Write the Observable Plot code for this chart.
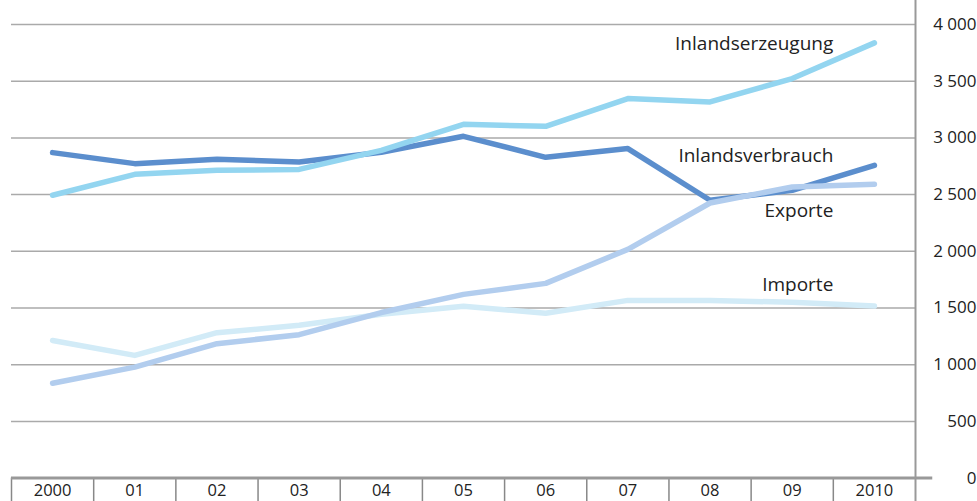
<!DOCTYPE html>
<html><head><meta charset="utf-8">
<script src="https://cdn.jsdelivr.net/npm/d3@7"></script>
<script src="https://cdn.jsdelivr.net/npm/@observablehq/plot@0.6"></script>
<style>
body{margin:0;background:#fff;font-family:"Open Sans",sans-serif}
g[aria-label="yticks"] text{letter-spacing:1.6px}
g[aria-label="xticks"] text{letter-spacing:1.2px}
</style>
</head><body><div id="chart"></div>
<script>
const years = [2000,2001,2002,2003,2004,2005,2006,2007,2008,2009,2010];
const yearLabels = ["2000","01","02","03","04","05","06","07","08","09","2010"];
const inlandserzeugung = [2494,2679,2714,2722,2890,3120,3102,3347,3317,3523,3838];
const inlandsverbrauch = [2870,2773,2811,2788,2873,3014,2829,2906,2450,2538,2758];
const exporte = [837,979,1185,1265,1460,1620,1717,2017,2426,2567,2591];
const importe = [1214,1082,1282,1347,1444,1515,1453,1567,1567,1550,1517];
const seriesNames = ["Inlandsverbrauch","Importe","Exporte","Inlandserzeugung"];
const seriesValues = [inlandsverbrauch, importe, exporte, inlandserzeugung];
const seriesColors = ["#5b8ecd","#d2ebf7","#b2cdee","#93d5f0"];
const labelNames = ["Inlandserzeugung","Inlandsverbrauch","Exporte","Importe"];
const labelY = [3830,2840,2355,1700];
const yTicks = [0,500,1000,1500,2000,2500,3000,3500,4000];

const rows = [];
seriesNames.forEach((s,i)=>years.forEach((yr,j)=>rows.push({series:s, year:yr, value:seriesValues[i][j]})));
const bounds = d3.range(years.length+1).map(i=>years[0]-0.5+i);
const fmt = d => d3.format(",")(d).replace(/,/g," ");
const xMin = years[0]-0.5, xMax = years[years.length-1]+0.5;

const chart = Plot.plot({
  width: 977, height: 501,
  marginLeft: 11, marginRight: 62, marginTop: 24, marginBottom: 23.4,
  x: {domain: [xMin, xMax], axis: null},
  y: {domain: [0,4000], axis: null},
  color: {domain: seriesNames, range: seriesColors},
  style: {fontFamily: "Open Sans, sans-serif", fontSize: "16px", color: "#222", overflow: "visible"},
  marks: [
    Plot.ruleY(yTicks.filter(d=>d>0), {y: d=>d, x1: xMin, x2: xMax, stroke: "#aaa", strokeWidth: 1.5}),
    Plot.ruleX(bounds.slice(0,-1), {x: d=>d, y1: -230, y2: 0, stroke: "#888", strokeWidth: 1.5}),
    Plot.ruleX([xMax], {x: d=>d, y1: -230, y2: 4230, stroke: "#999", strokeWidth: 2}),
    Plot.ruleY([0], {y: d=>d, x1: xMin, x2: xMax + 0.21, stroke: "#999", strokeWidth: 3}),
    Plot.line(rows, {x: "year", y: "value", z: "series", stroke: "series", strokeWidth: 5.5, strokeLinecap: "round", strokeLinejoin: "round"}),
    Plot.text(labelNames, {x: xMax - 1, y: (d,i)=>labelY[i], text: d=>d, textAnchor: "end", fontSize: 19, fill: "#222"}),
    Plot.text(years, {x: d=>d, y: 0, dy: 12.5, text: (d,i)=>yearLabels[i], fontSize: 16.5, fill: "#222", ariaLabel: "xticks"}),
    Plot.text(yTicks, {x: xMax, y: d=>d, dx: 61, text: d=>fmt(d), textAnchor: "end", fontSize: 17, fill: "#222", ariaLabel: "yticks"})
  ]
});
document.getElementById("chart").appendChild(chart);
</script></body></html>
